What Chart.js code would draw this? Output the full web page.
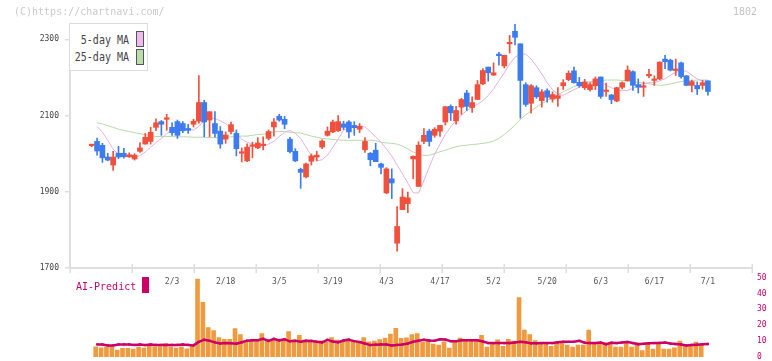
<!DOCTYPE html>
<html><head><meta charset="utf-8">
<script src="https://cdn.jsdelivr.net/npm/chart.js@4.4.1/dist/chart.umd.min.js"></script>
<style>
html,body{margin:0;padding:0;background:#fff;width:772px;height:361px;overflow:hidden;font-family:"DejaVu Sans Mono",monospace;}
#wrap{position:relative;width:772px;height:361px;}
canvas{position:absolute;left:0;top:0;}
.t{position:absolute;white-space:nowrap;font-size:10px;line-height:10px;transform-origin:0 0;}
#leg{position:absolute;left:69px;top:23px;width:77px;height:46px;border:1.5px solid #dcdcdc;background:#fff;}
.sw{position:absolute;width:6px;border:1px solid #555;}
</style></head><body>
<div id="wrap">
<canvas id="vol" width="772" height="361"></canvas>
<canvas id="main" width="772" height="361"></canvas>
<div class="t" style="left:14px;top:7px;color:#cacaca;transform:scaleY(1.05)">(C)https://chartnavi.com/</div>
<div class="t" style="left:733px;top:7px;color:#c4c4c4;transform:scaleY(1.05)">1802</div>
<div id="leg">
  <div class="t" style="left:0;width:59px;text-align:right;top:9.5px;color:#444;transform:scaleY(1.3)">5-day MA</div>
  <div class="t" style="left:0;width:59px;text-align:right;top:26.5px;color:#444;transform:scaleY(1.3)">25-day MA</div>
  <div class="sw" style="left:66px;top:7px;height:14px;background:#eebbee"></div>
  <div class="sw" style="left:66px;top:24.5px;height:14px;background:#bbddaa"></div>
</div>
<div class="t" style="left:76px;top:280.5px;color:#cc0066;transform:scaleY(1.1)">AI-Predict</div>
<div style="position:absolute;left:142px;top:277px;width:7px;height:16px;background:#cc0066"></div>
</div>
<script>
// ---- data ----
const dates = ['1/10','1/14','1/15','1/16','1/17','1/20','1/21','1/22','1/23','1/24','1/27','1/28','1/29','1/30','1/31',
'2/3','2/4','2/5','2/6','2/7','2/10','2/12','2/13','2/14','2/17','2/18','2/19','2/20','2/21','2/25','2/26','2/27','2/28',
'3/3','3/4','3/5','3/6','3/7','3/10','3/11','3/12','3/13','3/14','3/17','3/18','3/19','3/21','3/24','3/25','3/26','3/27','3/28','3/31',
'4/1','4/2','4/3','4/4','4/7','4/8','4/9','4/10','4/11','4/14','4/15','4/16','4/17','4/18','4/21','4/22','4/23','4/24','4/25','4/28','4/30',
'5/1','5/2','5/7','5/8','5/9','5/12','5/13','5/14','5/15','5/16','5/19','5/20','5/21','5/22','5/23','5/26','5/27','5/28','5/29','5/30',
'6/2','6/3','6/4','6/5','6/6','6/9','6/10','6/11','6/12','6/13','6/16','6/17','6/18','6/19','6/20','6/23','6/24','6/25','6/26','6/27','6/30',
'7/1'];
const openP = [2021,2032,2022,1991,1970,2001,2001,1992,1986,2006, 2025,2032,2069,2084,2090,2069,2084,2079,2066,2077,
 2085,2134,2088,2079,2059,2038,2058,2053,2001,1981, 2019,2015,2021,2040,2070,2098,2090,2038,2006,1959,
 1939,1980,1991,2017,2048,2057,2060,2078,2083,2074, 2064,2010,2001,2009,1973,1897,1934,1765,1853,1869,
 1986,1914,2032,2059,2048,2059,2083,2124,2086,2122, 2159,2121,2142,2183,2227,2206,2259,2230,2288,2321,
 2288,2181,2132,2173,2139,2165,2143,2145,2178,2194, 2217,2187,2173,2168,2178,2201,2163,2154,2138,2174,
 2191,2215,2181,2174,2204,2192,2196,2248,2245,2218, 2238,2204,2179,2179,2179,2191];
const highP = [2024,2041,2027,2001,2006,2019,2014,2002,2000,2029, 2053,2069,2091,2087,2103,2081,2088,2084,2077,2090,
 2205,2140,2110,2110,2071,2057,2083,2062,2015,2026, 2030,2042,2044,2062,2092,2103,2098,2043,2013,1962,
 1975,1999,2006,2036,2070,2088,2100,2085,2087,2084, 2079,2042,2003,2027,1975,1963,1960,1861,1908,1899,
 1994,2031,2066,2064,2068,2074,2124,2128,2124,2145, 2166,2149,2192,2223,2227,2238,2266,2258,2310,2340,
 2288,2186,2181,2178,2168,2170,2162,2173,2194,2217, 2227,2200,2195,2186,2201,2201,2185,2155,2174,2188,
 2230,2217,2196,2188,2221,2204,2241,2258,2248,2248, 2240,2205,2193,2188,2192,2191];
const lowP = [2018,1996,1977,1981,1956,1987,1988,1990,1983,2003, 2025,2025,2060,2048,2061,2048,2040,2055,2053,2070,
 2080,2044,2044,2043,2014,2027,2052,1994,1978,1979, 1989,2013,2010,2036,2046,2085,2065,2002,1979,1909,
 1936,1970,1981,2013,2046,2055,2058,2063,2041,2048, 2055,2003,1968,1979,1947,1895,1882,1744,1853,1845,
 1934,1914,2026,2020,2043,2045,2075,2087,2077,2103, 2113,2108,2142,2181,2190,2205,2232,2225,2264,2285,
 2093,2124,2106,2145,2122,2135,2135,2124,2168,2191, 2185,2174,2168,2164,2168,2145,2150,2131,2136,2170,
 2190,2166,2159,2150,2199,2179,2194,2223,2217,2205, 2198,2178,2162,2155,2169,2153];
const closeP = [2022,2007,1989,1983,1991,1991,1992,1997,1996,2015, 2043,2056,2081,2077,2092,2055,2048,2060,2061,2085,
 2134,2083,2110,2053,2025,2049,2076,2013,2005,2017, 2023,2028,2023,2058,2083,2088,2077,2005,1981,1951,
 1973,1994,1996,2033,2059,2083,2084,2069,2057,2068, 2072,2032,1984,1979,1964,1960,1923,1809,1886,1884,
 1993,2022,2048,2032,2064,2074,2123,2107,2113,2142, 2124,2134,2181,2218,2212,2212,2257,2258,2292,2305,
 2192,2129,2178,2149,2162,2148,2155,2152,2186,2211, 2186,2178,2188,2181,2196,2150,2165,2142,2173,2186,
 2219,2179,2174,2176,2206,2194,2240,2241,2219,2221, 2202,2179,2189,2170,2186,2163];
const ma5 = [null,2071,2056,2035,2012,1997,1992,1991,1990,1995, 2004,2017,2029,2040,2052,2062,2065,2065,2064,2062,
 2071,2087,2094,2092,2086,2079,2066,2052,2038,2030, 2025,2022,2020,2025,2032,2045,2056,2061,2053,2040,
 2017,1994,1981,1984,1996,2017,2038,2061,2069,2071, 2071,2070,2058,2043,2030,2012,1994,1970,1947,1923,
 1897,1897,1929,1965,1999,2025,2051,2070,2087,2101, 2113,2122,2129,2139,2152,2170,2191,2212,2235,2253,
 2261,2261,2248,2230,2209,2186,2168,2156,2153,2160, 2168,2174,2182,2186,2190,2188,2179,2173,2166,2165,
 2166,2171,2179,2184,2186,2186,2191,2196,2206,2213, 2218,2216,2206,2196,2191,2189];
const ma25 = [null,2081,2078,2073,2069,2064,2061,2058,2055,2052, 2050,2047,2045,2045,2045,2045,2044,2044,2044,2043,
 2043,2043,2042,2042,2042,2043,2044,2045,2046,2046, 2048,2050,2051,2053,2057,2058,2058,2056,2055,2054,
 2050,2046,2043,2040,2039,2037,2036,2035,2035,2035, 2035,2035,2035,2034,2030,2028,2027,2025,2020,2012,
 2004,1999,1995,1996,2000,2005,2009,2014,2018,2021, 2022,2024,2025,2027,2029,2033,2040,2050,2062,2075,
 2090,2102,2112,2122,2131,2139,2147,2155,2162,2169, 2176,2182,2186,2189,2191,2192,2193,2193,2193,2192,
 2191,2189,2187,2185,2183,2181,2179,2180,2183,2186, 2189,2191,2192,2193,2193,2193];
const volume = [null,6.4,5.8,6.2,6.7,4.4,5.4,5.4,5.0,6.2, 5.6,7.1,6.4,6.6,8.5,6.4,5.6,6.2,5.2,7.5,
 49.2,34.4,18.6,16.7,12.3,11.1,11.1,17.9,14.2,9.4, 10.7,11.1,14.8,10.9,11.1,10.7,11.1,16,10.9,13.6,
 10.7,10.7,10.2,10.2,9.4,12.3,10.7,10,11.5,10.2, 9.4,12.3,9.6,10,11,12,14.5,18,11.7,12.1,
 14.2,14.8,9.2,10,8.1,7.5,9.6,5.6,9.2,11.9, 10.4,10,10.4,13.6,6.2,8.1,10.8,6.7,11.1,10,
 37.5,16.9,14.2,10.4,9,8.3,6.7,9,9.4,7.5, 6.2,7.5,7.5,16.9,9,9,9,9,6.2,6.2,
 9,6.2,9,4,9,5,9,5,5,5.8, 10,7.5,7.5,9.4,7.7,null];
const aiPredict = [null,7.9,7.9,7.3,7.3,7.9,7.9,7.9,7.6,7.9, 7.5,7.9,7.6,7.6,7.6,7.6,7.6,7.9,7.6,7.3,
 9.5,10.9,10.2,9.2,8.5,8.8,8.7,8.4,9.3,10.3, 10.6,10.6,11.5,10.2,11.4,10.5,11.2,9.9,10.2,9.6,
 10.3,10.1,9.6,9.2,10.8,9.7,9.3,10.4,10.9,10.0, 9.4,8.5,7.5,7.8,7.9,7.9,7.3,7.6,7.9,8.5,
 9.6,10.3,10.9,10.4,10.2,11.2,11.0,10.0,10.0,10.5, 10.6,10.6,10.6,9.8,8.8,8.8,8.8,8.8,8.8,9.2,
 9.6,9.3,8.6,8.6,8.8,8.8,8.8,9.3,9.6,9.6, 9.6,10.2,9.0,8.8,8.8,9.1,8.0,9.0,8.8,9.2,
 9.5,8.8,8.0,8.3,8.6,8.8,8.9,9.1,8.5,8.2, 7.9,7.3,7.6,7.8,8.0,8.2];
const priceTicks = [1700,1900,2100,2300];
const dateTicks = ['2/3','2/18','3/5','3/19','4/3','4/17','5/2','5/20','6/3','6/17','7/1'];
const volTicks = [0,10,20,30,40,50];

// ---- config ----
const X_MIN = -4.05, X_MAX = 123.23, GRID_DIVS = 11;
const RED = '#f0503c', BLUE = '#3d7cf0';
Chart.defaults.font.family = '"DejaVu Sans Mono", monospace';
Chart.defaults.animation = false;

const up = dates.map((d,i)=> closeP[i] >= openP[i]);
const candleColors = up.map(u => u ? RED : BLUE);

const gridTicks = {
  id:'gridTicks',
  afterDraw(chart){
    const xs = chart.scales.x, ca = chart.chartArea, ctx = chart.ctx;
    ctx.save(); ctx.strokeStyle = '#dedede'; ctx.lineWidth = 1.5;
    for (let k=0;k<=GRID_DIVS;k++){
      const px = Math.round(xs.getPixelForValue(X_MIN + k*(X_MAX-X_MIN)/GRID_DIVS)) + 0.25;
      ctx.beginPath(); ctx.moveTo(px, ca.bottom-4); ctx.lineTo(px, ca.bottom+5); ctx.stroke();
    }
    ctx.restore();
  }
};

new Chart(document.getElementById('main'), {
  type:'bar',
  data:{ datasets:[
    {type:'line', data: ma25.map((v,i)=>({x:i,y:v})), borderColor:'#b4dca6', borderWidth:1, pointRadius:0, order:10, spanGaps:false},
    {type:'line', data: ma5.map((v,i)=>({x:i,y:v})), borderColor:'#e6b0e6', borderWidth:1, pointRadius:0, order:9, spanGaps:false},
    {type:'bar', data: dates.map((d,i)=>({x:i,y:[lowP[i],highP[i]]})), backgroundColor:candleColors, barThickness:1, grouped:false, order:2},
    {type:'bar', data: dates.map((d,i)=>({x:i,y:[openP[i],closeP[i]]})), backgroundColor:candleColors, barThickness:5, minBarLength:1.5, grouped:false, order:1}
  ]},
  options:{
    responsive:false, devicePixelRatio:1, events:[],
    layout:{padding:{left:0,right:20,top:24,bottom:63}},
    plugins:{legend:{display:false}, tooltip:{enabled:false}},
    scales:{
      x:{type:'linear', min:X_MIN, max:X_MAX, offset:false,
         grid:{display:false, drawTicks:false}, border:{display:true,color:'#dedede',width:2},
         ticks:{autoSkip:false, maxRotation:0, padding:9, color:'#555', font:{size:8},
           callback:(v)=> dates[v] ?? ''},
         afterBuildTicks:(s)=>{ s.ticks = dateTicks.map(l=>({value:dates.indexOf(l)})); },
         afterFit:(s)=>{ s.height = 30; }
      },
      y:{type:'linear', min:1700, max:2340,
         grid:{display:true, drawOnChartArea:false, drawTicks:true, tickLength:5, color:'#dedede', lineWidth:1.5},
         border:{display:true,color:'#dedede',width:2},
         ticks:{padding:6, color:'#444', font:{size:8}, callback:(v)=> String(v)},
         afterBuildTicks:(s)=>{ s.ticks = priceTicks.map(v=>({value:v})); },
         afterFit:(s)=>{ s.width = 70; }
      }
    }
  },
  plugins:[gridTicks]
});

new Chart(document.getElementById('vol'), {
  type:'bar',
  data:{ datasets:[
    {type:'line', data: aiPredict.map((v,i)=>({x:i,y:v})), borderColor:'#cc0066', backgroundColor:'#cc0066', borderWidth:2.5,
     pointRadius:1.6, pointStyle:'rect', pointBorderWidth:0, order:1},
    {type:'bar', data: volume.map((v,i)=>({x:i-0.25,y:v})), backgroundColor:'#f09a40', barThickness:4, grouped:false, order:2}
  ]},
  options:{
    responsive:false, devicePixelRatio:1, events:[],
    layout:{padding:{left:70,right:0,top:277.7,bottom:3.3}},
    plugins:{legend:{display:false}, tooltip:{enabled:false}},
    scales:{
      x:{type:'linear', min:X_MIN, max:X_MAX, offset:false, display:false},
      y:{type:'linear', position:'right', min:0, max:50,
         grid:{display:false, drawTicks:false}, border:{display:false},
         ticks:{padding:5, color:'#cc0066', font:{size:8}, callback:(v)=> String(v)},
         afterBuildTicks:(s)=>{ s.ticks = volTicks.map(v=>({value:v})); },
         afterFit:(s)=>{ s.width = 20; s.paddingTop = 0; s.paddingBottom = 0; }
      }
    }
  }
});
</script>
</body></html>
